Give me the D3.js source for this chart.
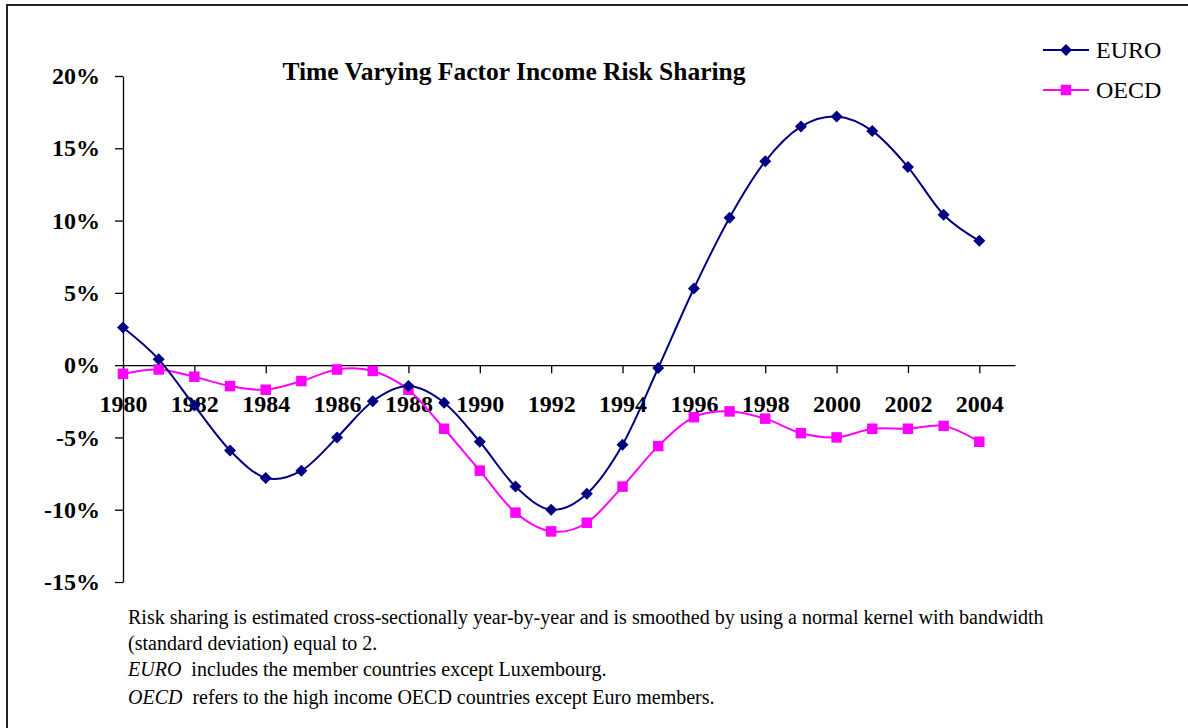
<!DOCTYPE html>
<html>
<head>
<meta charset="utf-8">
<script src="https://cdn.jsdelivr.net/npm/d3@7"></script>
<style>
  body { margin: 0; background: #fff; }
  svg { display: block; }
</style>
</head>
<body>
<div id="chart"></div>
<script>
// data (percent)
const years = d3.range(1980, 2005)
const euro = [2.6, 0.4, -2.8, -5.9, -7.8, -7.3, -5.0, -2.5, -1.45, -2.6, -5.3, -8.4, -10.0, -8.9, -5.5, -0.2, 5.3, 10.2, 14.1, 16.5, 17.2, 16.2, 13.7, 10.4, 8.6]
const oecd = [-0.6, -0.3, -0.8, -1.45, -1.7, -1.1, -0.3, -0.4, -1.7, -4.4, -7.3, -10.2, -11.5, -10.9, -8.4, -5.6, -3.6, -3.2, -3.7, -4.7, -5.0, -4.4, -4.4, -4.2, -5.3]
const yTicks = [20, 15, 10, 5, 0, -5, -10, -15]
const xTicks = d3.range(1980, 2005, 2)
const series = [
  { name: 'EURO', values: euro, color: '#000080', shape: 'diamond' },
  { name: 'OECD', values: oecd, color: '#ff00ff', shape: 'square' }
]
const notes = [
  [{ t: 'Risk sharing is estimated cross-sectionally year-by-year and is smoothed by using a normal kernel with bandwidth' }],
  [{ t: '(standard deviation) equal to 2.' }],
  [{ t: 'EURO', i: true }, { t: '  includes the member countries except Luxembourg.' }],
  [{ t: 'OECD', i: true }, { t: '  refers to the high income OECD countries except Euro members.' }]
]

const width = 1188
const height = 728
const serif = '"Liberation Serif", "Times New Roman", serif'

const svg = d3.select('#chart').append('svg')
  .attr('width', width)
  .attr('height', height)

// frame
svg.append('rect')
  .attr('x', 7).attr('y', 5)
  .attr('width', 1200).attr('height', 760)
  .attr('fill', 'none')
  .attr('stroke', '#222')
  .attr('stroke-width', 2)

const x = d3.scaleLinear().domain([1980, 2005]).range([123, 1015])
const y = d3.scaleLinear().domain([-15, 20]).range([582, 76])

// y axis
const yAxis = svg.append('g')
  .attr('transform', `translate(${x(1980)},0)`)
  .call(d3.axisLeft(y).tickValues(yTicks).tickSize(8).tickSizeOuter(0).tickFormat(d => d + '%'))
yAxis.select('.domain').attr('stroke', '#000').attr('stroke-width', 1.3)
yAxis.selectAll('.tick line').attr('stroke', '#000').attr('stroke-width', 1.3)
yAxis.selectAll('.tick text')
  .attr('x', -23)
  .style('font-family', serif)
  .style('font-size', '24px')
  .style('font-weight', 'bold')
  .attr('fill', '#000')

// x axis at zero
const xAxis = svg.append('g')
  .attr('transform', `translate(0,${y(0)})`)
  .call(d3.axisBottom(x).tickValues(xTicks).tickSize(8).tickSizeOuter(0).tickFormat(d3.format('d')))
xAxis.select('.domain').attr('stroke', '#000').attr('stroke-width', 1.3)
xAxis.selectAll('.tick line').attr('stroke', '#000').attr('stroke-width', 1.3)
xAxis.selectAll('.tick text')
  .attr('y', 0)
  .attr('dy', 0)
  .attr('transform', 'translate(0,47)')
  .style('font-family', serif)
  .style('font-size', '24px')
  .style('font-weight', 'bold')
  .attr('fill', '#000')

// title
svg.append('text')
  .attr('x', 514).attr('y', 80)
  .attr('text-anchor', 'middle')
  .style('font-family', serif)
  .style('font-size', '25.5px')
  .style('font-weight', 'bold')
  .text('Time Varying Factor Income Risk Sharing')

const line = d3.line()
  .x((d, i) => x(years[i]))
  .y(d => y(d))
  .curve(d3.curveCatmullRom.alpha(0))

const marker = (sel, s) => {
  if (s.shape === 'diamond') {
    sel.append('path')
      .attr('d', d3.symbol(d3.symbolSquare, 72)())
      .attr('transform', 'rotate(45)')
      .attr('fill', s.color)
  } else {
    sel.append('path')
      .attr('d', d3.symbol(d3.symbolSquare, 110)())
      .attr('fill', s.color)
  }
}

// draw OECD first so EURO sits on top
series.slice().reverse().forEach(s => {
  svg.append('path')
    .datum(s.values)
    .attr('fill', 'none')
    .attr('stroke', s.color)
    .attr('stroke-width', 2)
    .attr('d', line)
  svg.selectAll(null)
    .data(s.values)
    .join('g')
    .attr('transform', (d, i) => `translate(${x(years[i])},${y(d)})`)
    .each(function () { marker(d3.select(this), s) })
})

// legend
const legend = svg.append('g')
series.forEach((s, i) => {
  const g = legend.append('g').attr('transform', `translate(1066,${50 + i * 40})`)
  g.append('line')
    .attr('x1', -23).attr('x2', 23)
    .attr('stroke', s.color).attr('stroke-width', 2)
  marker(g, s)
  g.append('text')
    .attr('x', 30).attr('y', 8)
    .style('font-family', serif)
    .style('font-size', '24px')
    .text(s.name)
})

// footnotes
const lineY = [624, 650, 676, 704]
notes.forEach((parts, i) => {
  const t = svg.append('text')
    .attr('x', 128).attr('y', lineY[i])
    .attr('xml:space', 'preserve')
    .style('font-family', serif)
    .style('font-size', '20px')
    .style('white-space', 'pre')
  parts.forEach(p => {
    t.append('tspan')
      .style('font-style', p.i ? 'italic' : 'normal')
      .text(p.t)
  })
})
</script>
</body>
</html>
